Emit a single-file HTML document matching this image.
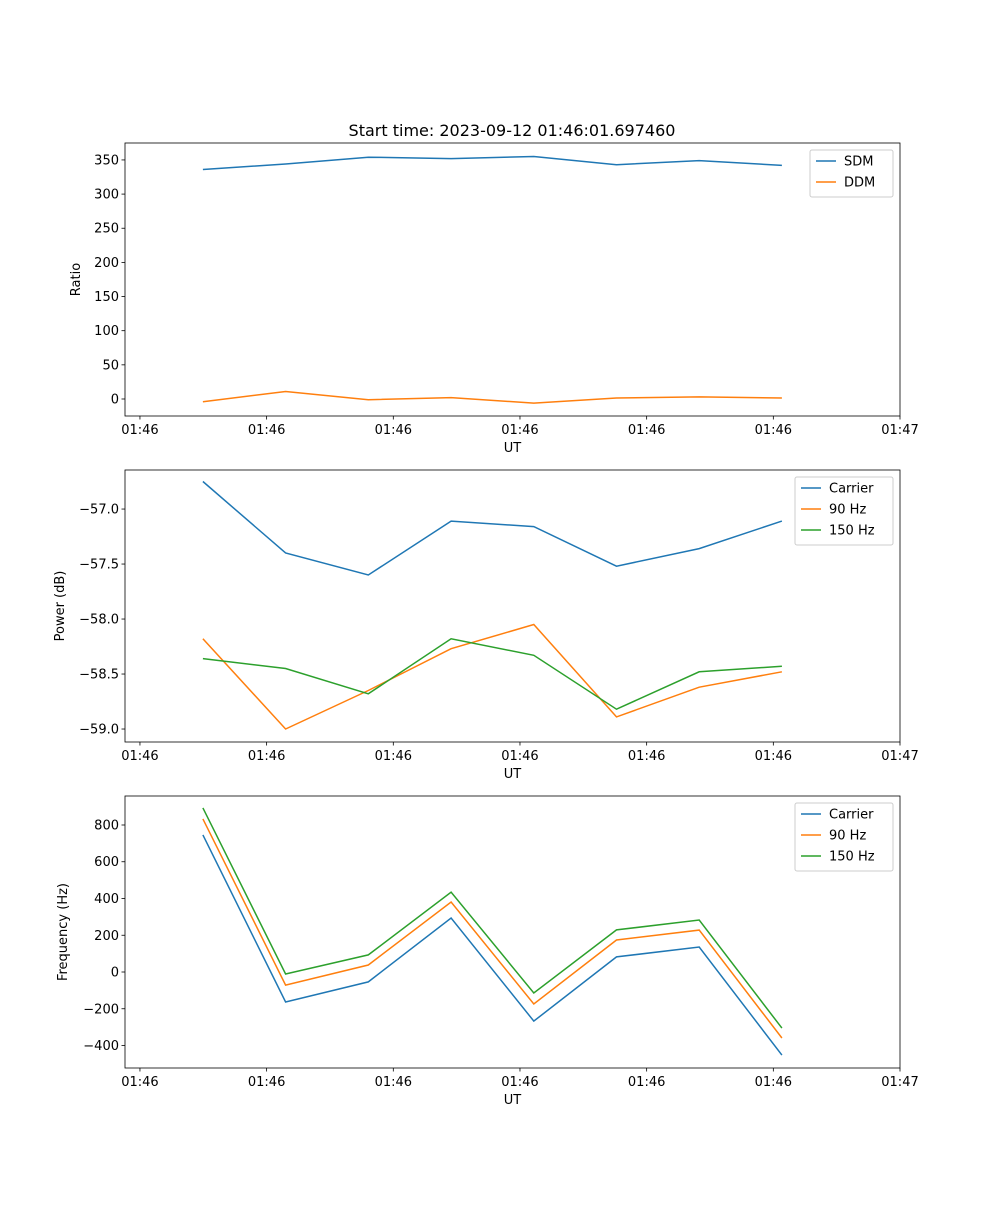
<!DOCTYPE html>
<html><head><meta charset="utf-8"><style>
body{margin:0;background:#fff}
svg text{font-family:"DejaVu Sans","Liberation Sans",sans-serif;fill:#000}
</style></head><body>
<svg id="fig" width="1000" height="1200" xmlns="http://www.w3.org/2000/svg">
<rect width="1000" height="1200" fill="#fff"/>
<text x="512" y="136" font-size="16" text-anchor="middle">Start time: 2023-09-12 01:46:01.697460</text>
</svg>
<script>
const times=[4.97,11.50,18.03,24.56,31.09,37.62,44.15,50.68];
const xTickVals=[0,10,20,30,40,50,60];
const xTickLabels=["01:46","01:46","01:46","01:46","01:46","01:46","01:47"];
const sdm=[336,344,354,352,355,343,349,342];
const ddm=[-4,11,-1,2,-6,1.5,3,1.5];
const powCarrier=[-56.75,-57.40,-57.60,-57.11,-57.16,-57.52,-57.36,-57.11];
const pow90=[-58.18,-59.0,-58.65,-58.27,-58.05,-58.89,-58.62,-58.48];
const pow150=[-58.36,-58.45,-58.68,-58.18,-58.33,-58.82,-58.48,-58.43];
const freqCarrier=[746,-163,-54,294,-267,82,136,-452];
const freq90=[833,-71,38,381,-174,174,228,-359];
const freq150=[893,-11,93,435,-114,229,283,-305];
const ratioTicks=[0,50,100,150,200,250,300,350];
const powTicks=[-59.0,-58.5,-58.0,-57.5,-57.0];
const freqTicks=[-400,-200,0,200,400,600,800];
const NS="http://www.w3.org/2000/svg";
const svg=document.getElementById('fig');
const C=["#1f77b4","#ff7f0e","#2ca02c"];
function mk(t,a,p){const e=document.createElementNS(NS,t);for(const k in a)e.setAttribute(k,a[k]);(p||svg).appendChild(e);return e;}
const X0=125,X1=900,XD0=-1.18,XD1=60;
const xs=v=>X0+(v-XD0)/(XD1-XD0)*(X1-X0);
function fmt(v,d){return (v<0?"\u2212":"")+Math.abs(v).toFixed(d);}
function panel(name,top,bot,d0,d1,ticks,dec,ylabel,series,labels,leg){
  const g=mk('g',{});
  
  
  const ys=v=>bot-(v-d0)/(d1-d0)*(bot-top);
  series.forEach((s,i)=>{
    const pts=s.map((v,j)=>xs(times[j]).toFixed(1)+','+ys(v).toFixed(1)).join(' ');
    const pl=mk('polyline',{points:pts,fill:'none',stroke:C[i],'stroke-width':1.5},g);
    
    
  });
  mk('rect',{x:X0,y:top,width:X1-X0,height:bot-top,fill:'none',stroke:'#000','stroke-width':0.8},g);
  ticks.forEach(v=>{const y=ys(v);
    mk('line',{x1:X0-3.5,x2:X0,y1:y,y2:y,stroke:'#000','stroke-width':0.8},g);
    const t=mk('text',{x:X0-6,y:y+4.5,'font-size':13,'text-anchor':'end'},g);t.textContent=fmt(v,dec);
    
    });
  xTickVals.forEach((v,i)=>{const x=xs(v);
    mk('line',{x1:x,x2:x,y1:bot,y2:bot+3.5,stroke:'#000','stroke-width':0.8},g);
    const t=mk('text',{x:x,y:bot+18,'font-size':13,'text-anchor':'middle'},g);t.textContent=xTickLabels[i];
    
    });
  const xl=mk('text',{x:(X0+X1)/2,y:bot+36,'font-size':13,'text-anchor':'middle'},g);xl.textContent='UT';
  
  
  const yx=leg.yl,yy=(top+bot)/2;
  const yl=mk('text',{x:yx,y:yy,'font-size':13,'text-anchor':'middle',transform:`rotate(-90 ${yx} ${yy})`},g);yl.textContent=ylabel;
  
  
  const lg=mk('g',{},g);
  
  
  mk('rect',{x:leg.x,y:top+7,width:893-leg.x,height:labels.length*21+5,fill:'#fff',stroke:'#ccc',rx:2},lg);
  labels.forEach((l,i)=>{const y=top+18+i*21;
    mk('line',{x1:leg.x+6,x2:leg.x+26,y1:y,y2:y,stroke:C[i],'stroke-width':1.5},lg);
    const t=mk('text',{x:leg.x+34,y:y+4.5,'font-size':13},lg);t.textContent=l;
    
    });
}
panel('ratio',143,416,-24.9,374.8,ratioTicks,0,'Ratio',[sdm,ddm],['SDM','DDM'],{x:810,yl:80});
panel('power',470,742,-59.118,-56.645,powTicks,1,'Power (dB)',[powCarrier,pow90,pow150],['Carrier','90 Hz','150 Hz'],{x:795,yl:64});
panel('frequency',796,1068,-522.4,957.8,freqTicks,0,'Frequency (Hz)',[freqCarrier,freq90,freq150],['Carrier','90 Hz','150 Hz'],{x:795,yl:67});
</script>
</body></html>
